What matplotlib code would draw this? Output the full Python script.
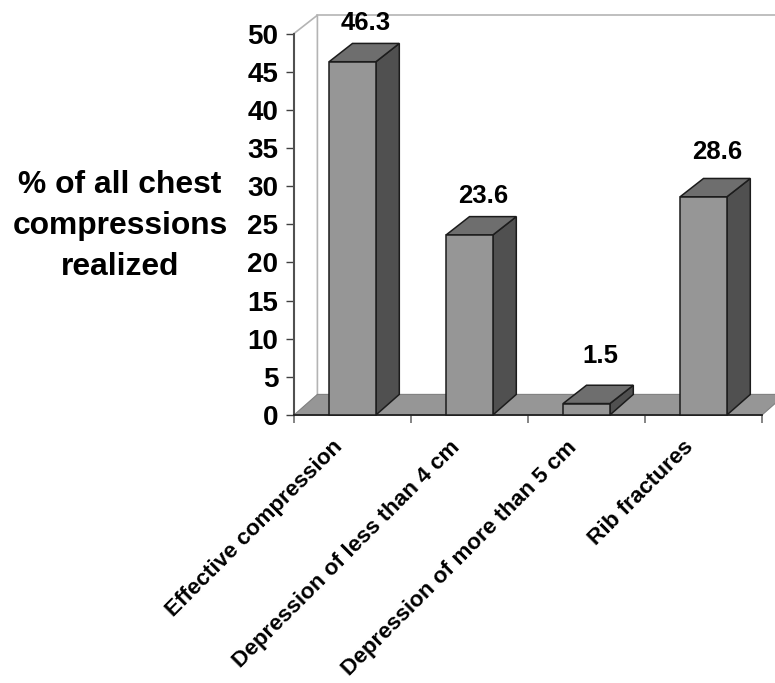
import matplotlib
matplotlib.use("Agg")
import matplotlib.pyplot as plt
from matplotlib.patches import Polygon

plt.rcParams['font.family'] = ['Liberation Sans', 'DejaVu Sans']
plt.rcParams['font.weight'] = 'bold'

# 数据
categories = ['Effective compression', 'Depression of less than 4 cm',
              'Depression of more than 5 cm', 'Rib fractures']
values = [46.3, 23.6, 1.5, 28.6]
y_ticks = [0, 5, 10, 15, 20, 25, 30, 35, 40, 45, 50]
y_title = '% of all chest\ncompressions\nrealized'

# 立体效果的偏移量（数据单位）
depth_x = 0.2
depth_y = 2.4
floor_depth_y = 2.7
bar_width = 0.4
label_pad = [1.8, 1.8, 2.9, 2.5]

W, H = 775, 683
fig = plt.figure(figsize=(W / 100, H / 100), dpi=100, facecolor='white')
ax = fig.add_axes([294 / W, (H - 415) / H, 468 / W, 381.5 / H])
ax.set_xlim(0, len(categories))
ax.set_ylim(0, 50)
ax.patch.set_visible(False)
for side in ['top', 'right']:
    ax.spines[side].set_visible(False)
ax.spines['left'].set_color('#505050')
ax.spines['left'].set_linewidth(1.5)
ax.spines['bottom'].set_color('#202020')
ax.spines['bottom'].set_linewidth(1.3)

# 坐标轴刻度
ax.set_yticks(y_ticks)
ax.tick_params(axis='y', length=5.8, width=1.0, color='#404040', labelsize=20, pad=5.5)
ax.set_xticks(range(len(categories) + 1))
ax.set_xticklabels([])
ax.tick_params(axis='x', length=5.8, width=1.2, color='#707070')

# 背景墙和地面
ax.plot([0, depth_x, depth_x], [50, 50 + depth_y, floor_depth_y], color='#b4b4b4',
        lw=1.2, clip_on=False, zorder=1)
ax.plot([depth_x, 4.2], [50 + depth_y, 50 + depth_y], color='#b4b4b4', lw=1.2,
        clip_on=False, zorder=1)
ax.add_patch(Polygon([(0, 0), (depth_x, floor_depth_y), (4.2, floor_depth_y), (4, 0)],
                     closed=True, facecolor='#969696', edgecolor='#808080', lw=0.8,
                     clip_on=False, zorder=2))

# 绘制每个柱子：正面、顶面、侧面
for i, v in enumerate(values):
    x0 = i + 0.5 - bar_width / 2
    x1 = i + 0.5 + bar_width / 2
    edge = dict(edgecolor='#1c1c1c', lw=1.1, clip_on=False, zorder=3)
    ax.add_patch(Polygon([(x1, 0), (x1 + depth_x, floor_depth_y),
                          (x1 + depth_x, v + depth_y), (x1, v)], facecolor='#505050', **edge))
    ax.add_patch(Polygon([(x0, v), (x0 + depth_x, v + depth_y),
                          (x1 + depth_x, v + depth_y), (x1, v)], facecolor='#6e6e6e', **edge))
    ax.add_patch(Polygon([(x0, 0), (x0, v), (x1, v), (x1, 0)], facecolor='#969696', **edge))
    ax.text(i + 0.515 + depth_x / 2, v + depth_y + label_pad[i], f'{v:.1f}', ha='center',
            va='baseline', fontsize=18.5, fontweight='bold', color='black', zorder=5, clip_on=False)

# 横轴类别标签，旋转 45 度
for i, name in enumerate(categories):
    ax.annotate(name, xy=(i + 0.5, 0), xytext=(-14.5, -15.5), textcoords='offset points',
                ha='right', va='top', rotation=45, rotation_mode='anchor',
                fontsize=16.2, fontweight='bold', color='black', annotation_clip=False)

fig.text(120 / W, 1 - 226 / H, y_title, ha='center', va='center', fontsize=22.9,
         fontweight='bold', linespacing=1.48)

fig.savefig('out.png', dpi=100)
